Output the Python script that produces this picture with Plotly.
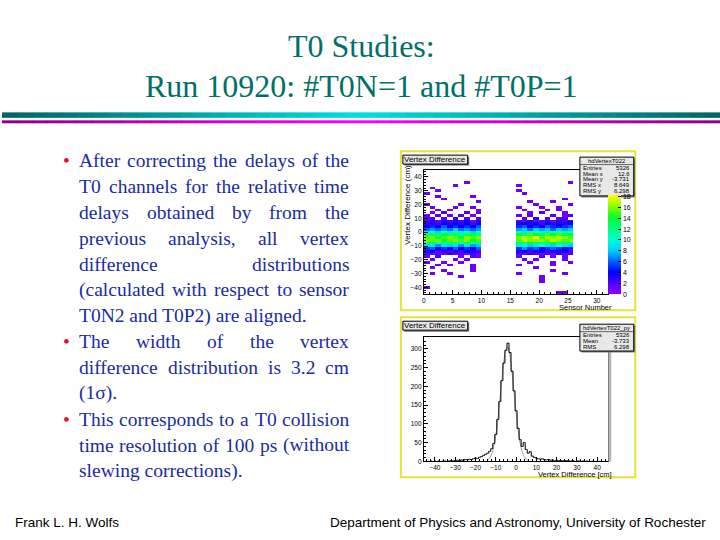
import plotly.graph_objects as go

W, H = 720, 540
SERIF = "Liberation Serif, Times New Roman, serif"
SANS = "Liberation Sans, Arial, sans-serif"

TITLE_LINES = ["T0 Studies:", "Run 10920: #T0N=1 and #T0P=1"]
BULLETS = [
    ["After correcting the delays of the",
     "T0 channels for the relative time",
     "delays obtained by from the",
     "previous analysis, all vertex",
     "difference distributions",
     "(calculated with respect to sensor",
     "T0N2 and T0P2) are aligned."],
    ["The width of the vertex",
     "difference distribution is 3.2 cm",
     "(1σ)."],
    ["This corresponds to a T0 collision",
     "time resolution of 100 ps (without",
     "slewing corrections)."],
]
FOOTER_LEFT = "Frank L. H. Wolfs"
FOOTER_RIGHT = "Department of Physics and Astronomy, University of Rochester"

# top panel: vertex difference vs sensor number, 2 cm rows
SENSORS = list(range(32))
VTX_ROWS = list(range(44, -45, -2))
# one char per sensor: '.' empty, 1-9, a=10 ... i=18
LEFT_ROWS = [   # sensors 0-9
    "..........", "..........", "..........", "..........",
    ".......1..", ".....1....", ".1........", "..1.......",
    "1.........", "..1.....1.", "...1......", ".........1",
    "1.....1...", ".1...1..1.", "..1.1....1", ".1.2...2.1",
    "1.2.1.2.1.", "12.2.3.2.2", "2313232413", "3324343424",
    "4546454546", "6767686767", "9a8a9b9a8a", "cdcecdcdec",
    "fgefgfegfg", "gfgefgfgef", "cdbcdcbdcc", "8979897978",
    "5645464546", "3423232432", "2121312121", "1.2...1.21",
    ".1...1.1..", "1..1..1...", "..1.1...1.", ".1......1.",
    "...1....1.", ".1..1.....", "......1...", "..........",
    "..........", "..........", "1.........", "..........",
    "..........",
]
RIGHT_ROWS = [  # sensors 16-25
    "..........", "..........", "..........", "..........",
    ".........1", "1.........", "..........", "1.........",
    ".1........", "..........", "........1.", "..1...1...",
    "...1.....1", "1...1..1..", ".1...1.1..", "..1.2...1.",
    "1.2...2.12", ".2.3.2.12.", "2131231323", "3434243434",
    "5645465456", "7868786878", "a9bab9baba", "ecfedfefde",
    "ghgifhghgf", "fhgggfhgfg", "dcedcdecdc", "9a89a98a98",
    "5756456545", "3423423342", "2132121312", "1...2.1.1.",
    ".1.1....1.", "..1...1..1", "1.....1...", "...1......",
    "......1...", "1.......1.", "....1.....", "....1.....",
    "....1.....", "..........", "..........", "..........",
    ".......11.",
]
STATS_2D = [("Entries", "5326"), ("Mean x", "12.6"), ("Mean y", "-3.731"),
            ("RMS x", "8.649"), ("RMS y", "6.298")]

# bottom panel: projection onto vertex difference, 1 cm bins
VTX_BINS = list(range(-45, 46))
VTX_COUNTS = [0, 0, 0, 1, 0, 1, 0, 1, 0, 1,
              1, 0, 1, 2, 1, 2, 3, 2, 4, 3,
              5, 4, 6, 5, 7, 9, 8, 11, 13, 16,
              19, 22, 27, 34, 48, 72, 112, 160, 215, 262,
              296, 315, 290, 240, 188, 135, 88, 58, 40, 50,
              32, 22, 26, 14, 11, 9, 7, 6, 7, 5,
              4, 5, 3, 4, 2, 3, 2, 3, 1, 2,
              2, 1, 1, 2, 0, 1, 1, 0, 1, 0,
              1, 0, 0, 1, 0, 0, 0, 0, 0, 0, 0]
FIT_X = list(range(-14, 7))
FIT_Y = [4, 9, 20, 39, 69, 111, 163, 218, 267, 298, 304, 282, 238,
         185, 131, 84, 49, 26, 13, 6, 2]
STATS_1D = [("Entries", "5326"), ("Mean", "-3.733"), ("RMS", "6.298")]

# Times widths (per 1000 em) for justifying the bullet text
TW = {}
for chars, w in [("ijlt:", 278), ("frI()-", 333), (" ,.", 250), ("sJ", 389),
                 ("acez", 444), ("bdghknopquvxy0123456789#", 500),
                 ("PSF", 556), ("TELZ", 611), ("RCB", 667),
                 ("ADGHKNOQUVXYw", 722), ("m", 778), ("M", 889), ("W", 944),
                 ("σ", 600)]:
    for c in chars:
        TW[c] = w


def text_w(s, size):
    return sum(TW.get(c, 500) for c in s) * size / 1000.0


def level(c):
    if c == ".":
        return None
    return int(c) if c.isdigit() else ord(c) - ord("a") + 10


z = []
for lrow, rrow in zip(LEFT_ROWS, RIGHT_ROWS):
    cells = [None] * len(SENSORS)
    for k, c in enumerate(lrow):
        cells[k] = level(c)
    for k, c in enumerate(rrow):
        cells[16 + k] = level(c)
    z.append(cells)

shapes = []
annotations = []


def rect(x0, y0, x1, y1, **kw):
    shapes.append(dict(type="rect", xref="paper", yref="paper",
                       x0=x0 / W, x1=x1 / W, y0=1 - y1 / H, y1=1 - y0 / H, **kw))


def hline(x0, x1, y, color="black", width=1):
    shapes.append(dict(type="line", xref="paper", yref="paper",
                       x0=x0 / W, x1=x1 / W, y0=1 - y / H, y1=1 - y / H,
                       line=dict(color=color, width=width)))


def label(x, y, text, size, color="black", family=SANS, xanchor="left", **kw):
    annotations.append(dict(xref="paper", yref="paper", x=x / W, y=1 - y / H,
                            text=text, showarrow=False, xanchor=xanchor,
                            yanchor="middle", borderpad=0,
                            font=dict(size=size, color=color, family=family), **kw))


# stripes under the title
N = 48
for i in range(N):
    t = 1 - abs(2 * (i + 0.5) / N - 1)
    teal = "rgb(0,%d,%d)" % (100 + 125 * t, 100 + 125 * t)
    mag = "rgb(%d,0,%d)" % (140 + 115 * t, 140 + 115 * t)
    rect(i * W / N, 113, (i + 1) * W / N + 0.5, 118.5, fillcolor=teal, line=dict(width=0))
    rect(i * W / N, 121, (i + 1) * W / N + 0.5, 124, fillcolor=mag, line=dict(width=0))

# title
label(360, 57 - 10.8, TITLE_LINES[0], 32, color="#007068", family=SERIF, xanchor="center")
label(360, 97 - 10.8, TITLE_LINES[1], 32, color="#007068", family=SERIF, xanchor="center")

# bullet text, justified
FS = 19.5
TEXT_L, TEXT_R = 76, 347
BLUE = "#1a2c9e"
line_no = 0
for para in BULLETS:
    label(64.5, 168 + 26 * line_no - 6.5, "•", FS, color="#e0102a",
          family=SERIF, xanchor="center")
    for k, line in enumerate(para):
        yc = 168 + 26 * line_no - 6.5
        words = line.split()
        if k == len(para) - 1 or len(words) == 1:
            label(TEXT_L, yc, line, FS, color=BLUE, family=SERIF)
        else:
            ws = [text_w(w, FS) for w in words]
            gap = (TEXT_R - TEXT_L - sum(ws)) / (len(words) - 1)
            x = TEXT_L
            for word, ww in zip(words, ws):
                label(x, yc, word, FS, color=BLUE, family=SERIF)
                x += ww + gap
        line_no += 1

# footer
label(12, 525, FOOTER_LEFT, 13.5)
label(707, 525, FOOTER_RIGHT, 13.5, xanchor="right")

# pad outlines
for top, bottom in [(152, 312), (319, 480)]:
    rect(400, top, 635, bottom, line=dict(color="#e4e43a", width=2), fillcolor="rgba(0,0,0,0)")
rect(608, 339, 611, 464, fillcolor="#b8b8b8", line=dict(width=0))

# histogram title boxes
for top in (156, 323):
    rect(403.5, top + 1.5, 468.5, top + 10.5, fillcolor="#707070", line=dict(width=0))
    rect(402, top, 467, top + 9, fillcolor="#e6e6e6", line=dict(color="black", width=1))
    label(434.5, top + 4.8, "Vertex Difference", 8, xanchor="center")

# stats boxes
for top, name, rows in [(158, "hdVertexT022", STATS_2D), (326, "hdVertexT022_py", STATS_1D)]:
    bottom = top + 9 + 6 * len(rows)
    rect(581, top + 1.5, 635, bottom + 1.5, fillcolor="#808080", line=dict(width=0))
    rect(579.5, top, 633.5, bottom, fillcolor="#e8e8e8", line=dict(color="black", width=1))
    label(606.5, top + 4.3, name, 6, xanchor="center")
    hline(579.5, 633.5, top + 7.5, color="#404040", width=0.8)
    for i, (k, v) in enumerate(rows):
        label(582, top + 10.5 + 6 * i, k, 6)
        label(631, top + 10.5 + 6 * i, v, 6, xanchor="right")

# axis titles
label(407, 206, "Vertex Difference (cm)", 8, xanchor="center", textangle=-90)
label(613, 309, "Sensor Number", 7.5, xanchor="right")
label(613, 477, "Vertex Difference [cm]", 7.5, xanchor="right")

# ROOT-like palette, colour per count value; colour bar ends at 18.2 under the stats box
ZMAX = 18.2
palette_stops = [(0, "#8a00ff"), (2, "#5000ff"), (4, "#0000ff"), (6, "#0060ff"),
                 (8, "#00d0ff"), (10, "#00ffd0"), (12, "#00ff80"), (14, "#00ff30"),
                 (16, "#80ff00"), (18, "#ffff00"), (ZMAX, "#ffff00")]
palette = [[v / ZMAX, c] for v, c in palette_stops]

fig = go.Figure()
fig.add_trace(go.Heatmap(
    x=[s + 0.5 for s in SENSORS], y=VTX_ROWS, z=z,
    zmin=0, zmax=ZMAX, colorscale=palette, hoverinfo="skip",
    colorbar=dict(x=608 / W, xanchor="left", xpad=0, y=1 - 296 / H, yanchor="bottom",
                  ypad=0, len=296 - 197, lenmode="pixels", thickness=13, outlinewidth=0,
                  tickvals=list(range(0, 19, 2)), ticks="inside", ticklen=3,
                  tickcolor="black", tickfont=dict(size=7, family=SANS, color="black")),
))
fig.add_trace(go.Scatter(x=FIT_X, y=FIT_Y, mode="lines", line=dict(color="#a0a0a0", width=1, shape="spline"),
                         xaxis="x2", yaxis="y2", hoverinfo="skip"))
fig.add_trace(go.Scatter(x=VTX_BINS, y=VTX_COUNTS, mode="lines", line=dict(color="black", width=1, shape="hvh"),
                         xaxis="x2", yaxis="y2", hoverinfo="skip"))

axis_style = dict(showline=True, mirror=True, linecolor="black", linewidth=1,
                  ticks="inside", ticklen=4, tickcolor="black", showgrid=False,
                  zeroline=False, tickfont=dict(size=6.5, family=SANS, color="black"))

fig.update_layout(
    width=W, height=H, margin=dict(l=0, r=0, t=0, b=0),
    paper_bgcolor="white", plot_bgcolor="white", showlegend=False,
    xaxis=dict(domain=[423 / W, 608 / W], range=[0, 32], tickvals=list(range(0, 31, 5)),
               minor=dict(dtick=1, ticks="inside", ticklen=2, tickcolor="black"), anchor="y", **axis_style),
    yaxis=dict(domain=[1 - 296 / H, 1 - 171 / H], range=[-45, 45], tickvals=list(range(-40, 41, 10)),
               minor=dict(dtick=2, ticks="inside", ticklen=2, tickcolor="black"), anchor="x", **axis_style),
    xaxis2=dict(domain=[423 / W, 608 / W], range=[-45.5, 45.5], tickvals=list(range(-40, 41, 10)),
                minor=dict(dtick=2, ticks="inside", ticklen=2, tickcolor="black"), anchor="y2", **axis_style),
    yaxis2=dict(domain=[1 - 464 / H, 1 - 339 / H], range=[0, 331], tickvals=list(range(0, 301, 50)),
                minor=dict(dtick=10, ticks="inside", ticklen=2, tickcolor="black"), anchor="x2", **axis_style),
    shapes=shapes,
    annotations=annotations,
)

# the page's default body margin would push the 720x540 figure off the window
fig.write_html("out.html", config={"displayModeBar": False},
               post_script="document.body.style.margin = '0';")
